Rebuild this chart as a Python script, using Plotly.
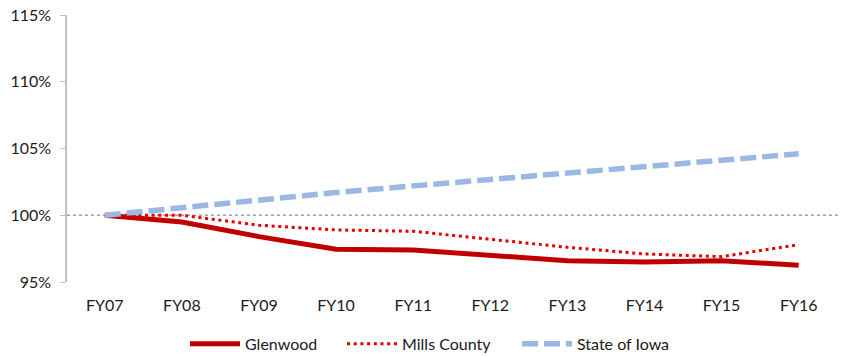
import plotly.graph_objects as go

categories = ["FY07", "FY08", "FY09", "FY10", "FY11", "FY12", "FY13", "FY14", "FY15", "FY16"]
glenwood = [1.000, 0.995, 0.984, 0.9745, 0.974, 0.970, 0.966, 0.965, 0.966, 0.9625]
mills_county = [1.000, 1.000, 0.9925, 0.989, 0.988, 0.982, 0.976, 0.971, 0.969, 0.978]
state_of_iowa = [1.000, 1.006, 1.012, 1.017, 1.022, 1.027, 1.031, 1.037, 1.042, 1.046]
y_ticks = [0.95, 1.00, 1.05, 1.10, 1.15]

fig = go.Figure()
fig.add_trace(go.Scatter(x=categories, y=glenwood, name="Glenwood", mode="lines",
                         line=dict(color="#C00000", width=5), legend="legend"))
fig.add_trace(go.Scatter(x=categories, y=mills_county, name="Mills County", mode="lines",
                         line=dict(color="#E00000", width=3, dash="3px,3.7px"), legend="legend2"))
fig.add_trace(go.Scatter(x=categories, y=state_of_iowa, name="State of Iowa", mode="lines",
                         line=dict(color="#9BB7E4", width=5.5, dash="16px,6px"), legend="legend3"))

fig.add_shape(type="line", xref="paper", yref="y", x0=0, x1=1, y0=1.0, y1=1.0,
              line=dict(color="#A0A0A0", width=1.5, dash="dot"), layer="below")

def leg(xpx):
    return dict(orientation="h", x=(xpx - 67) / 771, xanchor="left", y=-0.232, yanchor="middle",
                font=dict(size=16), itemwidth=50, bgcolor="rgba(0,0,0,0)")

fig.update_layout(
    width=845, height=356,
    margin=dict(l=67, r=7, t=15, b=74, autoexpand=False),
    paper_bgcolor="white", plot_bgcolor="white",
    font=dict(family="Lato, Carlito, Calibri, sans-serif", size=16, color="#1a1a1a"),
    showlegend=True,
    legend=leg(245 - 60),
    legend2=leg(402 - 60),
    legend3=leg(577 - 60),
    xaxis=dict(type="category", showline=False, showgrid=False, ticks="",
               ticklabelstandoff=12, range=[-0.49, 9.51]),
    yaxis=dict(range=[0.95, 1.15], tickvals=y_ticks, tickformat=".0%",
               showgrid=False, showline=True, linecolor="#BFBFBF", linewidth=1.5,
               ticks="outside", ticklen=5, tickcolor="#BFBFBF", zeroline=False,
               ticklabelstandoff=6),
)

fig.write_html("out.html", config={"displayModeBar": False},
               post_script="document.body.style.margin='0';")
